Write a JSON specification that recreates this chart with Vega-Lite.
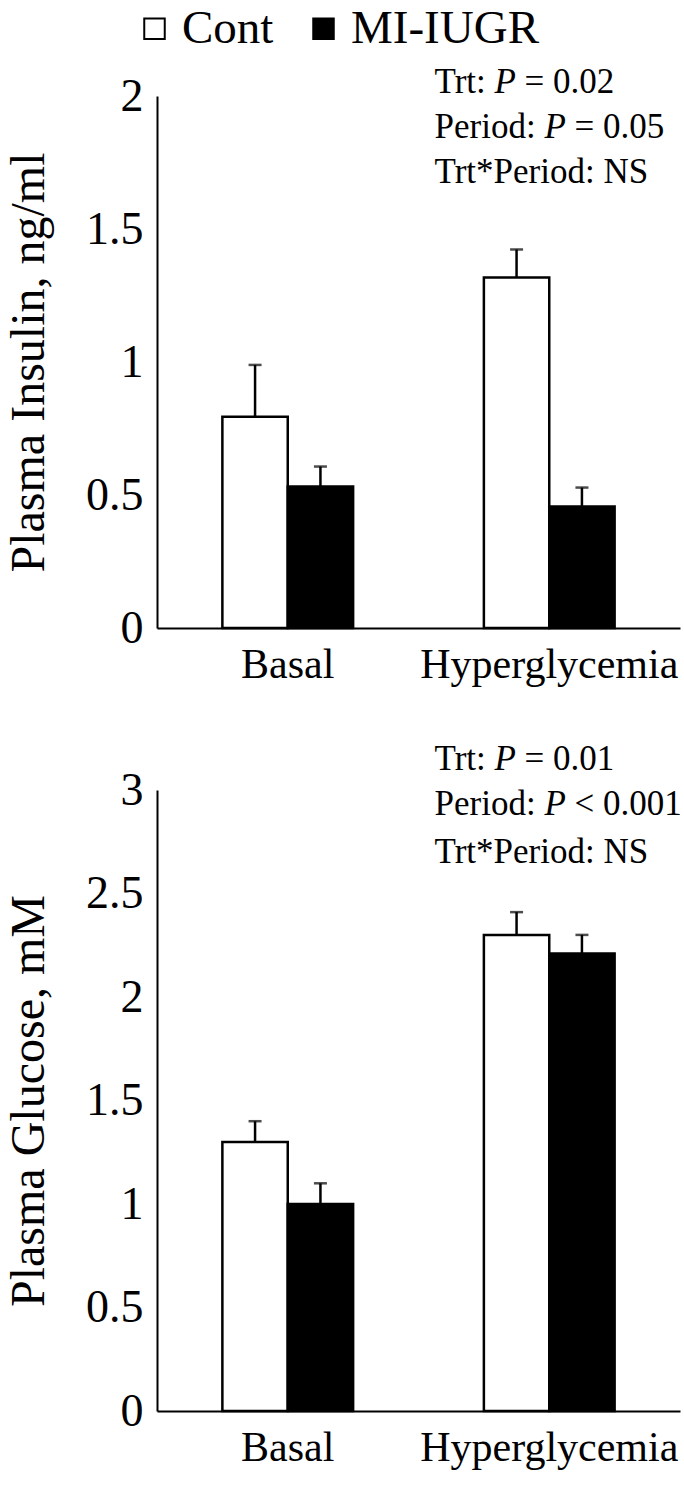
{
  "$schema": "https://vega.github.io/schema/vega-lite/v6.json",
  "padding": {"left": 5, "top": 5, "right": 2, "bottom": 4},
  "background": "white",
  "config": {
    "font": "Liberation Serif",
    "view": {"stroke": null},
    "axis": {"domainColor": "black", "domainWidth": 2, "ticks": false, "grid": false, "labelFont": "Liberation Serif", "titleFont": "Liberation Serif", "labelColor": "black", "titleColor": "black", "titleFontWeight": "normal", "labelLimit": 0, "titleLimit": 0},
    "legend": {"labelFont": "Liberation Serif", "labelColor": "black", "labelLimit": 0},
    "text": {"font": "Liberation Serif", "color": "black"}
  },
  "datasets": {
    "insulin": [
      {"period": "Basal", "group": "Cont", "mean": 0.794, "upper": 0.989},
      {"period": "Basal", "group": "MI-IUGR", "mean": 0.532, "upper": 0.607},
      {"period": "Hyperglycemia", "group": "Cont", "mean": 1.318, "upper": 1.423},
      {"period": "Hyperglycemia", "group": "MI-IUGR", "mean": 0.457, "upper": 0.528}
    ],
    "glucose": [
      {"period": "Basal", "group": "Cont", "mean": 1.30, "upper": 1.40},
      {"period": "Basal", "group": "MI-IUGR", "mean": 1.00, "upper": 1.10},
      {"period": "Hyperglycemia", "group": "Cont", "mean": 2.30, "upper": 2.41},
      {"period": "Hyperglycemia", "group": "MI-IUGR", "mean": 2.21, "upper": 2.30}
    ]
  },
  "bounds": "flush",
  "spacing": 162,
  "vconcat": [
    {
      "width": 523,
      "height": 532,
      "layer": [
        {
          "data": {"name": "insulin"},
          "mark": {"type": "bar", "stroke": "black", "strokeWidth": 2.5},
          "encoding": {
            "x": {"field": "period", "type": "nominal", "sort": ["Basal", "Hyperglycemia"], "scale": {"paddingInner": 0, "paddingOuter": 0}, "axis": {"title": null, "labelAngle": 0, "labelFontSize": 42, "labelPadding": 16}},
            "xOffset": {"field": "group", "type": "nominal", "sort": ["Cont", "MI-IUGR"], "scale": {"paddingInner": 0, "paddingOuter": 1.1}},
            "y": {"field": "mean", "type": "quantitative", "scale": {"domain": [0, 2]}, "axis": {"title": "Plasma Insulin, ng/ml", "values": [0, 0.5, 1, 1.5, 2], "format": "~g", "labelFontSize": 46, "labelPadding": 14, "titleFontSize": 48, "titlePadding": 32}},
            "fill": {"field": "group", "type": "nominal", "scale": {"domain": ["Cont", "MI-IUGR"], "range": ["white", "black"]},
              "legend": {"title": null, "orient": "none", "legendX": -26, "legendY": -91, "direction": "horizontal", "symbolType": "square", "symbolSize": 420, "symbolStrokeColor": "black", "symbolStrokeWidth": 2, "labelFontSize": 47, "labelOffset": 4, "columnPadding": 26}}
          }
        },
        {
          "data": {"name": "insulin"},
          "mark": {"type": "rule", "color": "black", "strokeWidth": 2.5},
          "encoding": {
            "x": {"field": "period", "type": "nominal", "sort": ["Basal", "Hyperglycemia"]},
            "xOffset": {"field": "group", "type": "nominal", "sort": ["Cont", "MI-IUGR"]},
            "y": {"field": "mean", "type": "quantitative"},
            "y2": {"field": "upper"}
          }
        },
        {
          "data": {"name": "insulin"},
          "mark": {"type": "tick", "orient": "horizontal", "color": "black", "size": 13, "thickness": 2.5},
          "encoding": {
            "x": {"field": "period", "type": "nominal", "sort": ["Basal", "Hyperglycemia"]},
            "xOffset": {"field": "group", "type": "nominal", "sort": ["Cont", "MI-IUGR"]},
            "y": {"field": "upper", "type": "quantitative"}
          }
        },
        {
          "data": {"values": [{"label": "Trt:", "line": 2.052}, {"label": "Period:", "line": 1.884}, {"label": "Trt*Period: NS", "line": 1.716}]},
          "mark": {"type": "text", "align": "left", "baseline": "middle", "fontSize": 35, "dx": 16},
          "encoding": {
            "x": {"datum": "Hyperglycemia", "bandPosition": 0},
            "y": {"field": "line", "type": "quantitative"},
            "text": {"field": "label"}
          }
        },
        {
          "data": {"values": [{"label": "P", "line": 2.052}]},
          "mark": {"type": "text", "align": "left", "baseline": "middle", "fontSize": 35, "fontStyle": "italic", "dx": 76},
          "encoding": {"x": {"datum": "Hyperglycemia", "bandPosition": 0}, "y": {"field": "line", "type": "quantitative"}, "text": {"field": "label"}}
        },
        {
          "data": {"values": [{"label": "= 0.02", "line": 2.052}]},
          "mark": {"type": "text", "align": "left", "baseline": "middle", "fontSize": 35, "dx": 106},
          "encoding": {"x": {"datum": "Hyperglycemia", "bandPosition": 0}, "y": {"field": "line", "type": "quantitative"}, "text": {"field": "label"}}
        },
        {
          "data": {"values": [{"label": "P", "line": 1.884}]},
          "mark": {"type": "text", "align": "left", "baseline": "middle", "fontSize": 35, "fontStyle": "italic", "dx": 126},
          "encoding": {"x": {"datum": "Hyperglycemia", "bandPosition": 0}, "y": {"field": "line", "type": "quantitative"}, "text": {"field": "label"}}
        },
        {
          "data": {"values": [{"label": "= 0.05", "line": 1.884}]},
          "mark": {"type": "text", "align": "left", "baseline": "middle", "fontSize": 35, "dx": 156},
          "encoding": {"x": {"datum": "Hyperglycemia", "bandPosition": 0}, "y": {"field": "line", "type": "quantitative"}, "text": {"field": "label"}}
        }
      ]
    },
    {
      "width": 523,
      "height": 621,
      "layer": [
        {
          "data": {"name": "glucose"},
          "mark": {"type": "bar", "stroke": "black", "strokeWidth": 2.5},
          "encoding": {
            "x": {"field": "period", "type": "nominal", "sort": ["Basal", "Hyperglycemia"], "scale": {"paddingInner": 0, "paddingOuter": 0}, "axis": {"title": null, "labelAngle": 0, "labelFontSize": 42, "labelPadding": 16}},
            "xOffset": {"field": "group", "type": "nominal", "sort": ["Cont", "MI-IUGR"], "scale": {"paddingInner": 0, "paddingOuter": 1.1}},
            "y": {"field": "mean", "type": "quantitative", "scale": {"domain": [0, 3]}, "axis": {"title": "Plasma Glucose, mM", "values": [0, 0.5, 1, 1.5, 2, 2.5, 3], "format": "~g", "labelFontSize": 46, "labelPadding": 14, "titleFontSize": 48, "titlePadding": 32}},
            "fill": {"field": "group", "type": "nominal", "scale": {"domain": ["Cont", "MI-IUGR"], "range": ["white", "black"]}, "legend": null}
          }
        },
        {
          "data": {"name": "glucose"},
          "mark": {"type": "rule", "color": "black", "strokeWidth": 2.5},
          "encoding": {
            "x": {"field": "period", "type": "nominal", "sort": ["Basal", "Hyperglycemia"]},
            "xOffset": {"field": "group", "type": "nominal", "sort": ["Cont", "MI-IUGR"]},
            "y": {"field": "mean", "type": "quantitative"},
            "y2": {"field": "upper"}
          }
        },
        {
          "data": {"name": "glucose"},
          "mark": {"type": "tick", "orient": "horizontal", "color": "black", "size": 13, "thickness": 2.5},
          "encoding": {
            "x": {"field": "period", "type": "nominal", "sort": ["Basal", "Hyperglycemia"]},
            "xOffset": {"field": "group", "type": "nominal", "sort": ["Cont", "MI-IUGR"]},
            "y": {"field": "upper", "type": "quantitative"}
          }
        },
        {
          "data": {"values": [{"label": "Trt:", "line": 3.15}, {"label": "Period:", "line": 2.93}, {"label": "Trt*Period: NS", "line": 2.70}]},
          "mark": {"type": "text", "align": "left", "baseline": "middle", "fontSize": 35, "dx": 16},
          "encoding": {
            "x": {"datum": "Hyperglycemia", "bandPosition": 0},
            "y": {"field": "line", "type": "quantitative"},
            "text": {"field": "label"}
          }
        },
        {
          "data": {"values": [{"label": "P", "line": 3.15}]},
          "mark": {"type": "text", "align": "left", "baseline": "middle", "fontSize": 35, "fontStyle": "italic", "dx": 76},
          "encoding": {"x": {"datum": "Hyperglycemia", "bandPosition": 0}, "y": {"field": "line", "type": "quantitative"}, "text": {"field": "label"}}
        },
        {
          "data": {"values": [{"label": "= 0.01", "line": 3.15}]},
          "mark": {"type": "text", "align": "left", "baseline": "middle", "fontSize": 35, "dx": 106},
          "encoding": {"x": {"datum": "Hyperglycemia", "bandPosition": 0}, "y": {"field": "line", "type": "quantitative"}, "text": {"field": "label"}}
        },
        {
          "data": {"values": [{"label": "P", "line": 2.93}]},
          "mark": {"type": "text", "align": "left", "baseline": "middle", "fontSize": 35, "fontStyle": "italic", "dx": 126},
          "encoding": {"x": {"datum": "Hyperglycemia", "bandPosition": 0}, "y": {"field": "line", "type": "quantitative"}, "text": {"field": "label"}}
        },
        {
          "data": {"values": [{"label": "< 0.001", "line": 2.93}]},
          "mark": {"type": "text", "align": "left", "baseline": "middle", "fontSize": 35, "dx": 156},
          "encoding": {"x": {"datum": "Hyperglycemia", "bandPosition": 0}, "y": {"field": "line", "type": "quantitative"}, "text": {"field": "label"}}
        }
      ]
    }
  ]
}
